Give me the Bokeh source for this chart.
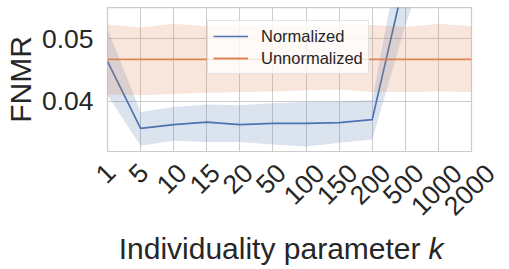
import math
from bokeh.plotting import figure
from bokeh.layouts import column
from bokeh.models import (ColumnDataSource, FixedTicker, Range1d, Legend, LegendItem)
from bokeh.core.properties import value
from bokeh.embed import file_html
from bokeh.resources import INLINE

# ---- data ----
k_labels = ["1", "5", "10", "15", "20", "50", "100", "150", "200", "500", "1000", "2000"]
norm_mean = [0.0464, 0.0357, 0.0363, 0.0367, 0.0363, 0.0365, 0.0365, 0.0366, 0.0371, 0.0600, 0.0750, 0.0850]
norm_lo = [0.0410, 0.0329, 0.0337, 0.0335, 0.0335, 0.0331, 0.0328, 0.0334, 0.0339, 0.0521, 0.0680, 0.0780]
norm_hi = [0.0516, 0.0383, 0.0391, 0.0395, 0.0394, 0.0397, 0.0399, 0.0400, 0.0402, 0.0683, 0.0820, 0.0920]
unnorm_mean = [0.0467, 0.0467, 0.0467, 0.0467, 0.0467, 0.0467, 0.0467, 0.0467, 0.0467, 0.0467, 0.0467, 0.0467]
unnorm_lo = [0.0411, 0.0410, 0.0412, 0.0414, 0.0415, 0.0416, 0.0418, 0.0419, 0.0415, 0.0415, 0.0416, 0.0415]
unnorm_hi = [0.0523, 0.0518, 0.0524, 0.0520, 0.0521, 0.0521, 0.0521, 0.0522, 0.0522, 0.0519, 0.0524, 0.0520]
y_ticks = [0.04, 0.05]
x_title = "Individuality parameter"
x_title_var = "k"

FONT = "Liberation Sans"
TXT = "#262626"
GRID = "#cccccc"
BLUE = "#4c72b0"
ORANGE = "#dd8452"

# ---- layout constants (pixels) ----
W = 509
H_TOP = 152
H_BOT = 117
LEFT = 107
RIGHT = 38
TOP = 7

idx = list(range(len(k_labels)))
n = len(k_labels) - 1
ppu = (W - LEFT - RIGHT) / n  # pixels per category step

p = figure(width=W, height=H_TOP, output_backend="svg", toolbar_location=None,
           x_range=Range1d(0, n), y_range=Range1d(0.0320, 0.0550),
           min_border_left=LEFT, min_border_right=RIGHT, min_border_top=TOP, min_border_bottom=1)
p.background_fill_color = "white"
p.border_fill_color = "white"
p.outline_line_color = GRID
p.outline_line_width = 1.25

src = ColumnDataSource(dict(x=idx, nm=norm_mean, nlo=norm_lo, nhi=norm_hi,
                            um=unnorm_mean, ulo=unnorm_lo, uhi=unnorm_hi))

p.varea(x="x", y1="nlo", y2="nhi", source=src, fill_color=BLUE, fill_alpha=0.2)
r_n = p.line(x="x", y="nm", source=src, line_color=BLUE, line_width=1.7)
p.varea(x="x", y1="ulo", y2="uhi", source=src, fill_color=ORANGE, fill_alpha=0.2)
r_u = p.line(x="x", y="um", source=src, line_color=ORANGE, line_width=1.8)

# axes / grid
p.xaxis.visible = False
p.xgrid.ticker = FixedTicker(ticks=idx)
p.xgrid.grid_line_color = GRID
p.xgrid.grid_line_width = 1

p.yaxis.ticker = FixedTicker(ticks=y_ticks)
p.ygrid.ticker = FixedTicker(ticks=y_ticks)
p.ygrid.grid_line_color = GRID
p.ygrid.grid_line_width = 1
p.yaxis.axis_line_color = None
p.yaxis.major_tick_line_color = None
p.yaxis.minor_tick_line_color = None
p.yaxis.major_tick_out = 0
p.yaxis.major_tick_in = 0
p.yaxis.major_label_standoff = 14
p.yaxis.major_label_text_font = FONT
p.yaxis.major_label_text_font_size = "26.5px"
p.yaxis.major_label_text_color = TXT
p.yaxis.axis_label = "FNMR"
p.yaxis.axis_label_text_font = FONT
p.yaxis.axis_label_text_font_size = "30px"
p.yaxis.axis_label_text_font_style = "normal"
p.yaxis.axis_label_text_color = TXT
p.yaxis.axis_label_standoff = 2

legend = Legend(items=[LegendItem(label="Normalized", renderers=[r_n]),
                       LegendItem(label="Unnormalized", renderers=[r_u])],
                location=(100, 77))
legend.label_text_font = FONT
legend.label_text_font_size = "16.5px"
legend.label_text_color = TXT
legend.glyph_width = 35
legend.label_standoff = 13
legend.padding = 5
legend.spacing = 2
legend.margin = 0
legend.background_fill_color = "white"
legend.background_fill_alpha = 0.8
legend.border_line_color = GRID
legend.border_line_width = 1
p.add_layout(legend, "center")

# ---- bottom strip: rotated tick labels and x-axis title, aligned to the same x scale ----
b = figure(width=W, height=H_BOT, output_backend="svg", toolbar_location=None,
           x_range=Range1d(-LEFT / ppu, (W - LEFT) / ppu), y_range=Range1d(-H_BOT, 0),
           x_axis_type=None, y_axis_type=None,
           min_border_left=0, min_border_right=0, min_border_top=0, min_border_bottom=0)
b.outline_line_color = None
b.background_fill_color = "white"
b.border_fill_color = "white"
for fig in (p, b):
    if "frame_align" in fig.properties():
        fig.frame_align = False

tick_src = ColumnDataSource(dict(x=idx, y=[-(15.3 + 5.5 * len(s)) for s in k_labels], t=k_labels))
b.text(x="x", y="y", text="t", source=tick_src, angle=math.pi / 4, x_offset=-2,
       text_align="center", text_baseline="middle", text_font=value(FONT),
       text_font_size=value("26.5px"), text_color=TXT)

title_src = ColumnDataSource(dict(x=[(420 - LEFT) / ppu], y=[-96.4], t=[x_title]))
b.text(x="x", y="y", text="t", source=title_src, text_align="right",
       text_baseline="alphabetic", text_font=value(FONT), text_font_size=value("30px"),
       text_color=TXT)
var_src = ColumnDataSource(dict(x=[(428 - LEFT) / ppu], y=[-96.4], t=[x_title_var]))
b.text(x="x", y="y", text="t", source=var_src, text_align="left",
       text_baseline="alphabetic", text_font=value(FONT), text_font_size=value("30px"),
       text_font_style="italic", text_color=TXT)

layout = column(p, b, spacing=0)
open("out.html", "w").write(file_html(layout, INLINE))
